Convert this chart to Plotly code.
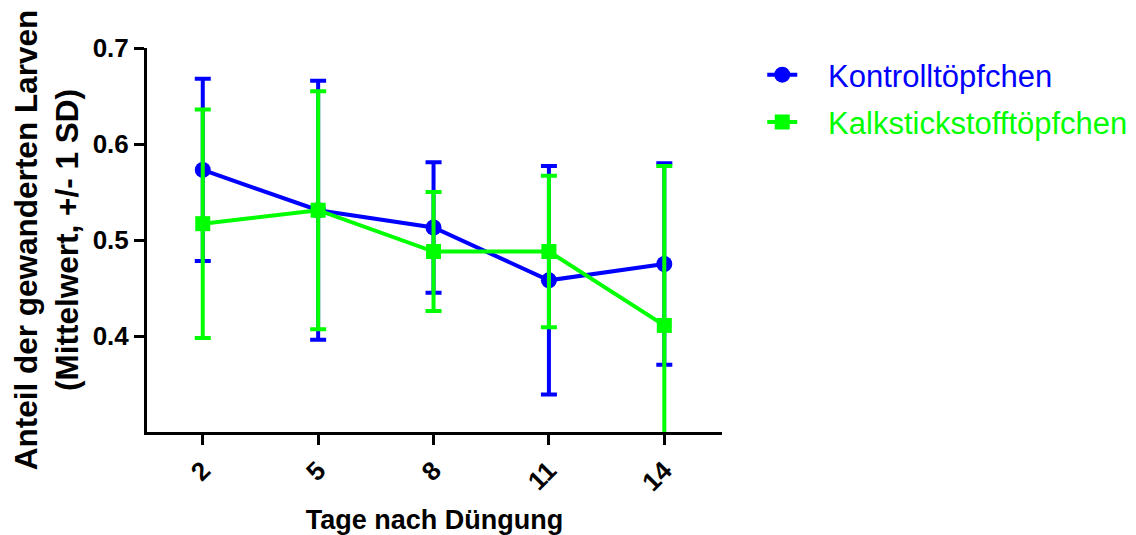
import plotly.graph_objects as go

days = [2, 5, 8, 11, 14]
tick_labels = ["2", "5", "8", "11", "14"]
kontroll_mean = [0.573, 0.531, 0.513, 0.458, 0.475]
kontroll_sd = [0.095, 0.135, 0.068, 0.119, 0.105]
kalk_mean = [0.517, 0.531, 0.488, 0.488, 0.411]
kalk_sd = [0.119, 0.124, 0.062, 0.079, 0.166]

BLUE = "#0000FF"
GREEN = "#00FF00"
FONT = "Liberation Sans, Arial, sans-serif"
NB = "\u00a0"

fig = go.Figure()
fig.add_trace(go.Scatter(
    x=days, y=kontroll_mean, mode="lines+markers",
    name=NB * 3 + f"<span style='color:{BLUE}'>Kontrolltöpfchen</span>",
    legendgroup="a",
    line=dict(color=BLUE, width=4),
    marker=dict(symbol="circle", size=16, color=BLUE),
    error_y=dict(type="data", array=kontroll_sd, visible=True,
                 color=BLUE, thickness=4, width=8),
))
fig.add_trace(go.Scatter(
    x=days, y=kalk_mean, mode="lines+markers",
    name=NB * 3 + f"<span style='color:{GREEN}'>Kalkstickstofftöpfchen</span>",
    legendgroup="b",
    line=dict(color=GREEN, width=4),
    marker=dict(symbol="square", size=15, color=GREEN),
    error_y=dict(type="data", array=kalk_sd, visible=True,
                 color=GREEN, thickness=4, width=8),
))

fig.update_layout(
    width=1136, height=535,
    margin=dict(l=139, r=422, t=40, b=111, autoexpand=False),
    paper_bgcolor="white", plot_bgcolor="white",
    font=dict(family=FONT, color="black"),
    legend=dict(x=1.07, y=1.0, xanchor="left", yanchor="top",
                font=dict(size=31, family=FONT),
                tracegroupgap=4, bgcolor="rgba(0,0,0,0)"),
    xaxis=dict(
        range=[0.55, 15.5], tickmode="array", tickvals=days, ticktext=tick_labels,
        tickangle=-45, showline=True, linewidth=3, linecolor="black",
        ticks="outside", ticklen=10, tickwidth=3, tickcolor="black",
        showgrid=False, zeroline=False,
        tickfont=dict(size=26, weight="bold", family=FONT),
        title=dict(text="Tage nach Düngung", standoff=15,
                   font=dict(size=27, weight="bold", family=FONT)),
    ),
    yaxis=dict(
        range=[0.3, 0.7], tickmode="array", tickvals=[0.4, 0.5, 0.6, 0.7],
        ticktext=["0.4", "0.5", "0.6", "0.7"],
        showline=True, linewidth=3, linecolor="black",
        ticks="outside", ticklen=10, tickwidth=3, tickcolor="black",
        showgrid=False, zeroline=False,
        tickfont=dict(size=26, weight="bold", family=FONT),
        title=dict(text="Anteil der gewanderten Larven<br>(Mittelwert, +/- 1 SD)",
                   standoff=12,
                   font=dict(size=31.5, weight="bold", family=FONT)),
    ),
)

fig.write_html("out.html")
